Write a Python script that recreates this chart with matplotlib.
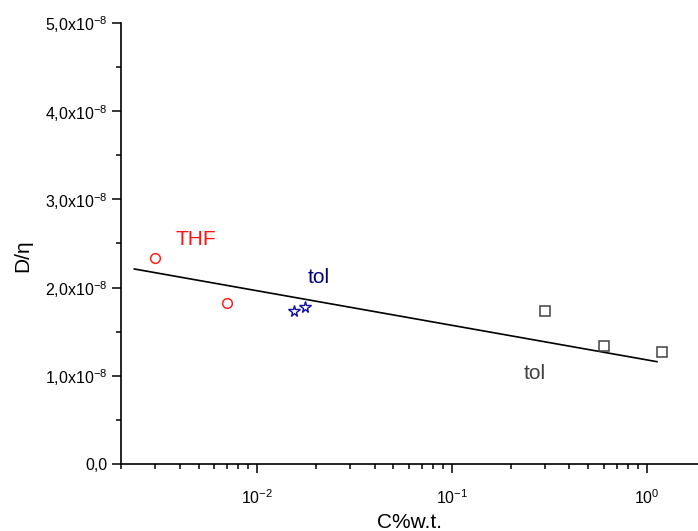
import matplotlib
matplotlib.use("Agg")
import matplotlib.pyplot as plt
from matplotlib.ticker import FixedLocator, LogLocator, NullFormatter

plt.rcParams["font.family"] = ["Liberation Sans", "DejaVu Sans"]
plt.rcParams["mathtext.fontset"] = "custom"
plt.rcParams["mathtext.rm"] = "Liberation Sans"
plt.rcParams["mathtext.it"] = "Liberation Sans:italic"

# concentration (%w.t.) and D/eta values
thf_c = [0.003, 0.007]
thf_d = [2.33e-8, 1.83e-8]
tol_star_c = [0.0155, 0.0175]
tol_star_d = [1.74e-8, 1.78e-8]
tol_sq_c = [0.3, 0.6, 1.2]
tol_sq_d = [1.735e-8, 1.34e-8, 1.27e-8]

# linear fit of D/eta against log C, end points
fit_c = [0.00234, 1.125]
fit_d = [2.211e-8, 1.160e-8]

y_ticks = [0, 1e-8, 2e-8, 3e-8, 4e-8, 5e-8]
y_labels = ["0,0", r"1,0x10$^{\mathregular{-8}}$", r"2,0x10$^{\mathregular{-8}}$",
            r"3,0x10$^{\mathregular{-8}}$", r"4,0x10$^{\mathregular{-8}}$",
            r"5,0x10$^{\mathregular{-8}}$"]
x_ticks = [0.01, 0.1, 1.0]
x_labels = [r"10$^{\mathregular{-2}}$", r"10$^{\mathregular{-1}}$", r"10$^{\mathregular{0}}$"]

fig = plt.figure(figsize=(6.98, 5.31), dpi=100)
ax = fig.add_axes([0.1734, 0.1262, 0.8266, 0.8305])

ax.plot(fit_c, fit_d, color="black", lw=1.2)
ax.plot(thf_c, thf_d, ls="none", marker="o", ms=7, mfc="none", mec="#ff2020", mew=1.1)
ax.plot(tol_star_c, tol_star_d, ls="none", marker="*", ms=8.5, mfc="none", mec="#1010a0", mew=1.0)
ax.plot(tol_sq_c, tol_sq_d, ls="none", marker="s", ms=6.5, mfc="none", mec="#404040", mew=1.1)

ax.text(0.00486, 2.54e-8, "THF", color="#ff1010", fontsize=15, ha="center", va="center")
ax.text(0.0206, 2.12e-8, "tol", color="#000080", fontsize=15, ha="center", va="center")
ax.text(0.264, 1.03e-8, "tol", color="#404040", fontsize=15, ha="center", va="center")

ax.set_xscale("log")
ax.set_xlim(0.002, 10 ** 0.262)
ax.set_ylim(0, 5e-8)

ax.xaxis.set_major_locator(FixedLocator(x_ticks))
ax.set_xticklabels(x_labels)
ax.xaxis.set_minor_locator(LogLocator(base=10, subs=range(2, 10), numticks=20))
ax.xaxis.set_minor_formatter(NullFormatter())

ax.yaxis.set_major_locator(FixedLocator(y_ticks))
ax.set_yticklabels(y_labels)
ax.yaxis.set_minor_locator(FixedLocator([0.5e-8, 1.5e-8, 2.5e-8, 3.5e-8, 4.5e-8]))

for side in ["top", "right"]:
    ax.spines[side].set_visible(False)
for side in ["left", "bottom"]:
    ax.spines[side].set_linewidth(1.2)

ax.tick_params(which="major", direction="out", length=6.5, width=1.1, labelsize=11.5)
ax.tick_params(which="minor", direction="out", length=3.5, width=1.1)
ax.tick_params(axis="y", which="major", pad=3)
ax.tick_params(axis="x", which="major", pad=11)

ax.set_xlabel("C%w.t.", fontsize=15, labelpad=4)
ax.set_ylabel("D/\u03b7", fontsize=15)
ax.yaxis.set_label_coords(-0.154, 0.472)

fig.savefig("out.png", dpi=100)
